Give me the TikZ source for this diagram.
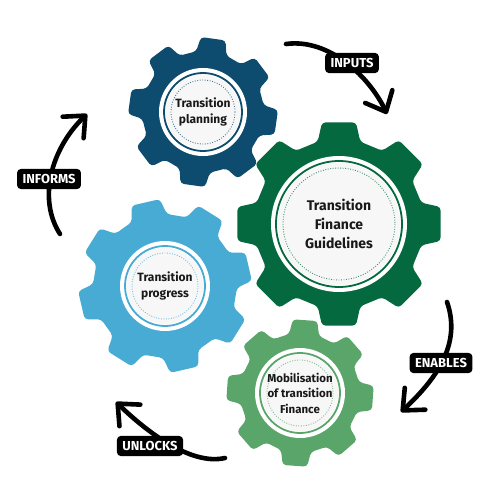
\documentclass[tikz,border=0pt]{standalone}
\usepackage{fontspec}
\setmainfont{Fira Sans}
\usetikzlibrary{arrows.meta,positioning}

\definecolor{planblue}{HTML}{0D4C6E}
\definecolor{guidegreen}{HTML}{04693E}
\definecolor{progblue}{HTML}{47ABD3}
\definecolor{mobgreen}{HTML}{5AA56A}
\definecolor{corefill}{HTML}{F7F7F7}

\tikzstyle{hubtext}=[align=center,text=black!90,font=\bfseries]
\tikzstyle{tag}=[fill=black,text=white,rounded corners=4pt,inner xsep=5.5pt,inner ysep=5.5pt,
  text height=9.2pt,text depth=0pt,font=\bfseries\fontsize{13}{13}\selectfont]
\tikzstyle{flow}=[line width=4.6pt,line cap=round,
  -{Straight Barb[length=17pt,width=30pt,line cap=round,line join=round]}]

% gear body: centre, root radius, tip radius, turn, colour
\newcommand{\gear}[5]{%
  \fill[#5,shift={(#1)},rotate=#4,rounded corners=3.5pt]
    (-9.5:#3) \foreach \k in {0,...,6}{
      -- ({45*\k+9.5}:#3) -- ({45*\k+14.5}:#2) -- ({45*\k+30.5}:#2) -- ({45*\k+35.5}:#3)}
    -- (324.5:#3) -- (329.5:#2) -- (345.5:#2) -- cycle;
}
% white hub with rings: centre, radius, colour
\newcommand{\hub}[3]{%
  \fill[white] (#1) circle[radius=#2];
  \draw[#3,line width=1.8pt] (#1) circle[radius=#2-5];
  \fill[corefill] (#1) circle[radius=#2-6.8];
  \draw[#3!75,line width=0.9pt,dash pattern=on 0.9pt off 1.6pt] (#1) circle[radius=#2-12];
}

\begin{document}
\begin{tikzpicture}[x=1pt,y=-1pt]
  \useasboundingbox[fill=white] (0,0) rectangle (500,500);

  \coordinate (c_plan) at (203,112);
  \coordinate (c_guide) at (339,224);
  \coordinate (c_prog) at (165,286);
  \coordinate (c_mob) at (300,393);

  \gear{c_plan}{61}{75}{-8}{planblue}
  \gear{c_guide}{85}{103}{0}{guidegreen}
  \gear{c_prog}{72}{87}{13}{progblue}
  \gear{c_mob}{60}{74}{-4}{mobgreen}

  \hub{c_plan}{44}{planblue}
  \hub{c_guide}{68}{guidegreen}
  \hub{c_prog}{45}{progblue}
  \hub{c_mob}{45}{mobgreen}

  \node[hubtext,font=\bfseries\fontsize{12}{16.5}\selectfont] (plan) at (c_plan) {Transition\\planning};
  \node[hubtext,font=\bfseries\fontsize{14}{19}\selectfont] (guide) at (c_guide) {Transition\\Finance\\Guidelines};
  \node[hubtext,font=\bfseries\fontsize{12}{16.5}\selectfont] (prog) at (c_prog) {Transition\\progress};
  \node[hubtext,font=\bfseries\fontsize{11.5}{15.5}\selectfont] (mob) at (c_mob) {Mobilisation\\of transition\\Finance};

  % cycle arrows
  \coordinate (in_s) at (286,44);   \coordinate (in_e) at (387,114);
  \coordinate (en_s) at (447,302);  \coordinate (en_e) at (401,412);
  \coordinate (un_s) at (225,458);  \coordinate (un_e) at (116,402);
  \coordinate (inf_s) at (60,234);  \coordinate (inf_e) at (87,114);

  \draw[flow] (in_s) .. controls (330,38) and (370,78) .. (in_e);
  \draw[flow] (en_s) .. controls (462,345) and (435,380) .. (en_e);
  \draw[flow] (un_s) .. controls (190,466) and (145,430) .. (un_e);
  \draw[flow] (inf_s) .. controls (38,200) and (50,150) .. (inf_e);

  \node[tag] (inputs) at (352,63) {INPUTS};
  \node[tag] (enables) at (441,363) {ENABLES};
  \node[tag] (unlocks) at (150,446) {UNLOCKS};
  \node[tag] (informs) at (49,179) {INFORMS};
\end{tikzpicture}
\end{document}
